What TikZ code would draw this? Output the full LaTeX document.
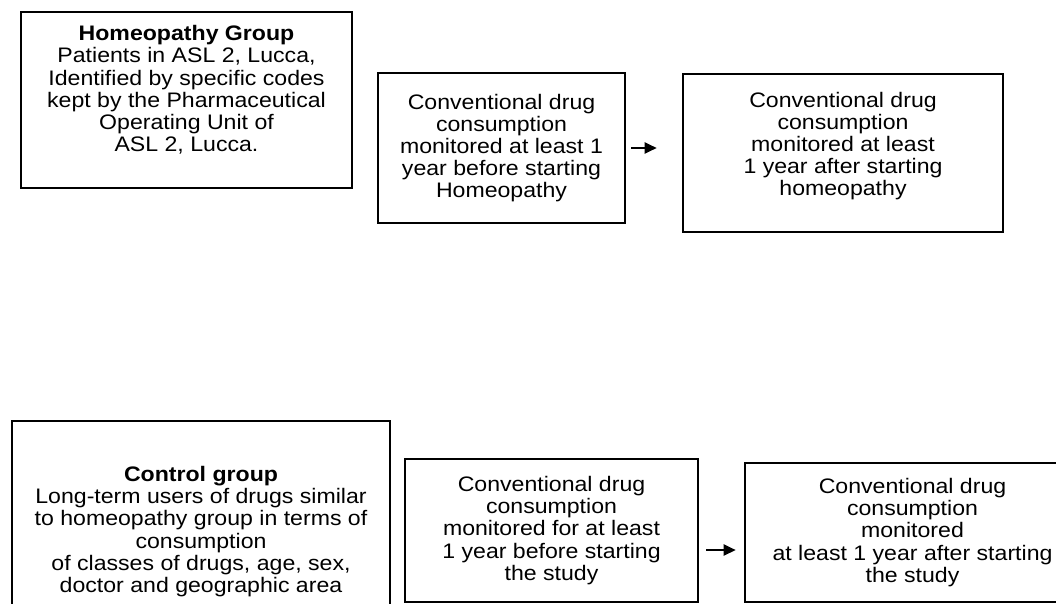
\documentclass[tikz,border=0pt]{standalone}
\usepackage{fontspec}
\setmainfont{Liberation Sans}[FakeStretch=1.1]
\usetikzlibrary{arrows.meta}
\begin{document}
\begin{tikzpicture}[x=1pt,y=-1pt,
    box/.style={draw=black, line width=2.6pt, inner sep=0pt},
    txt/.style={align=center, inner sep=0pt, font=\fontsize{21}{22.2}\selectfont},
    arr/.style={line width=2.4pt, -{Triangle[length=12pt,width=11pt]}}]
    \useasboundingbox (0,0) rectangle (1056,604);
    \clip (0,0) rectangle (1056,604);
    % homeopathy group
    \node[box, minimum width=331pt, minimum height=176pt] (homeo) at (186.5,100) {};
    \node[txt] (homeotxt) at ([yshift=10pt]homeo.center) {\textbf{Homeopathy Group}\\Patients in ASL 2, Lucca,\\Identified by specific codes\\kept by the Pharmaceutical\\Operating Unit of\\ASL 2, Lucca.};
    \node[box, minimum width=247pt, minimum height=150pt] (before1) at (501.5,148) {};
    \node[txt] (before1txt) at (before1.center) {Conventional drug\\consumption\\monitored at least 1\\year before starting\\Homeopathy};
    \node[box, minimum width=320pt, minimum height=158pt] (after1) at (843,153) {};
    \node[txt] (after1txt) at ([yshift=7pt]after1.center) {Conventional drug\\consumption\\monitored at least\\1 year after starting\\homeopathy};
    \draw[arr] ([xshift=5pt]before1.east) -- ([xshift=-25pt,yshift=5pt]after1.west);
    % control group
    \node[box, minimum width=378pt, minimum height=216pt] (control) at (201,529) {};
    \node[txt] (controltxt) at ([yshift=-2.5pt]control.center) {\textbf{Control group}\\Long-term users of drugs similar\\to homeopathy group in terms of\\consumption\\of classes of drugs, age, sex,\\doctor and geographic area};
    \node[box, minimum width=293pt, minimum height=143pt] (before2) at (551.5,530.5) {};
    \node[txt] (before2txt) at (before2.center) {Conventional drug\\consumption\\monitored for at least\\1 year before starting\\the study};
    \node[box, minimum width=335pt, minimum height=139pt] (after2) at (912.5,532.5) {};
    \node[txt] (after2txt) at (after2.center) {Conventional drug\\consumption\\monitored\\at least 1 year after starting\\the study};
    \draw[arr] ([xshift=7pt,yshift=-19.5pt]before2.east) -- ([xshift=-8pt,yshift=-17.5pt]after2.west);
\end{tikzpicture}
\end{document}
